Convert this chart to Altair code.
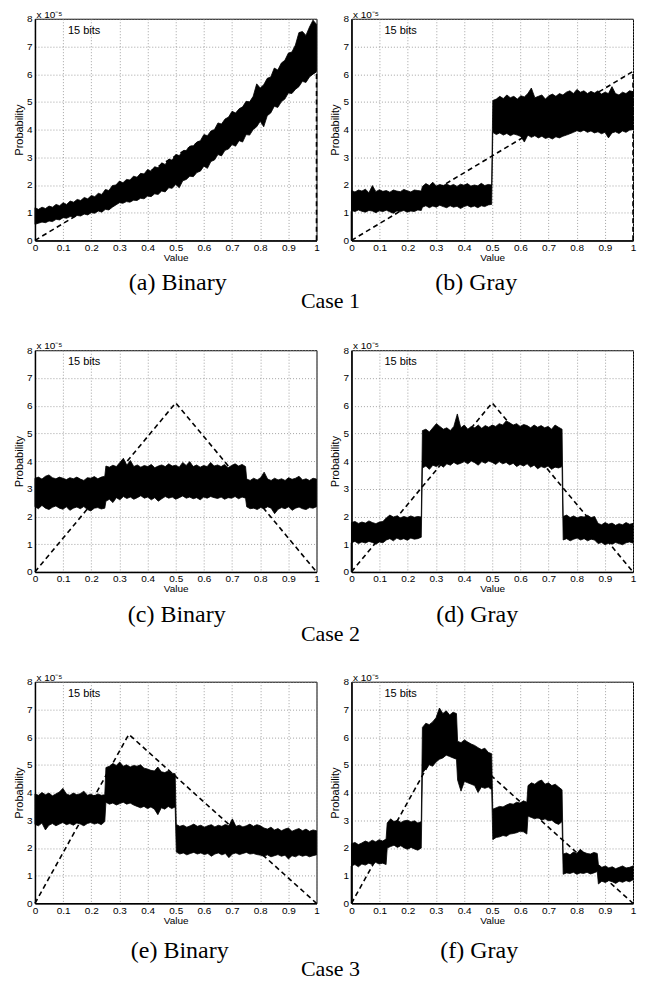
import altair as alt
import numpy as np
import pandas as pd

# ---------------- text / ticks ----------------
X_TICKS = [0, 0.1, 0.2, 0.3, 0.4, 0.5, 0.6, 0.7, 0.8, 0.9, 1]
Y_TICKS = [0, 1, 2, 3, 4, 5, 6, 7, 8]
BITS_LABEL = "15 bits"
BITS_POS = (0.117, 7.57)
SCALE_LABEL = "x 10\u207b\u2075"
CAPTIONS = ["(a) Binary", "(b) Gray", "(c) Binary", "(d) Gray", "(e) Binary", "(f) Gray"]
CASES = ["Case 1", "Case 2", "Case 3"]

# ---------------- target pdf (dashed), units of 1e-5 ----------------
TARGET_X = [[0, 1, 1], [0, 0.5, 1], [0, 1 / 3, 1]]
TARGET_Y = [[0, 6.1, 0], [0, 6.1, 0], [0, 6.1, 0]]

# ---------------- observed histogram bands (upper / lower envelope), units of 1e-5 ----------------
A_BREAKS = [0, 1]
A_HI = [[1.18, 1.12, 1.2, 1.15, 1.24, 1.2, 1.3, 1.25, 1.36, 1.3,
         1.42, 1.38, 1.48, 1.44, 1.55, 1.5, 1.62, 1.58, 1.7, 1.66,
         1.84, 1.8, 1.98, 2.0, 2.14, 2.08, 2.2, 2.18, 2.32, 2.28,
         2.42, 2.4, 2.56, 2.5, 2.66, 2.62, 2.8, 2.74, 2.92, 2.9,
         3.1, 3.06, 3.22, 3.25, 3.4, 3.42, 3.55, 3.6, 3.82, 3.78,
         3.95, 4.0, 4.24, 4.2, 4.38, 4.45, 4.66, 4.6, 4.75, 4.82,
         5.02, 5.0, 5.2, 5.65, 5.5, 5.62, 5.85, 5.9, 6.22, 6.15,
         6.4, 6.5, 6.76, 6.8, 7.05, 7.5, 7.54, 7.4, 7.7, 7.95, 7.8]]
A_LO = [[0.58, 0.62, 0.66, 0.64, 0.7, 0.68, 0.76, 0.74, 0.82, 0.8,
         0.86, 0.84, 0.9, 0.88, 0.95, 0.92, 1.0, 0.98, 1.06, 1.02,
         1.12, 1.1, 1.2, 1.28, 1.36, 1.34, 1.4, 1.38, 1.45, 1.44,
         1.52, 1.5, 1.6, 1.58, 1.68, 1.66, 1.78, 1.75, 1.9, 1.88,
         2.02, 1.9, 2.15, 2.2, 2.32, 2.3, 2.45, 2.5, 2.68, 2.6,
         2.85, 2.9, 3.1, 3.05, 3.25, 3.3, 3.46, 3.4, 3.6, 3.55,
         3.82, 3.8, 4.0, 4.1, 4.3, 4.1, 4.5, 4.6, 4.84, 4.8,
         5.0, 5.1, 5.32, 5.3, 5.45, 5.55, 5.74, 5.7, 5.9, 6.0, 6.1]]

B_BREAKS = [0, 0.25, 0.5, 1]
B_HI = [[1.8, 1.75, 1.82, 1.78, 1.85, 1.72, 1.98, 1.76, 1.83, 1.77, 1.8,
         1.74, 1.82, 1.78, 1.76, 1.84, 1.79, 1.75, 1.82, 1.8, 1.78],
        [1.95, 2.05, 1.98, 2.1, 1.96, 2.02, 1.98, 2.04, 1.97, 2.02, 1.95,
         2.03, 1.99, 2.05, 1.96, 2.0, 1.97, 2.06, 1.98, 2.02, 2.0],
        [5.05, 5.1, 5.2, 5.12, 5.25, 5.15, 5.2, 5.1, 5.22, 5.18,
         5.3, 5.5, 5.15, 5.2, 5.25, 5.1, 5.22, 5.28, 5.2, 5.3,
         5.25, 5.35, 5.4, 5.3, 5.45, 5.35, 5.4, 5.3, 5.38, 5.32,
         5.4, 5.28, 5.35, 5.3, 5.55, 5.3, 5.25, 5.35, 5.3, 5.4, 5.37]]
B_LO = [[1.08, 1.04, 1.1, 1.05, 1.02, 1.08, 1.06, 1.0, 1.07, 1.04, 1.09,
         1.03, 0.98, 1.06, 1.04, 1.08, 1.02, 1.06, 1.04, 1.1, 1.08],
        [1.2, 1.25, 1.18, 1.24, 1.2, 1.27, 1.22, 1.18, 1.25, 1.2, 1.23,
         1.15, 1.22, 1.26, 1.2, 1.24, 1.18, 1.25, 1.22, 1.28, 1.3],
        [3.9, 3.82, 3.88, 3.8, 3.86, 3.78, 3.84, 3.8, 3.75, 3.55,
         3.8, 3.72, 3.78, 3.7, 3.76, 3.68, 3.72, 3.66, 3.74, 3.7,
         3.76, 3.8, 3.85, 3.9, 3.96, 3.92, 3.98, 3.9, 3.95, 3.88,
         3.92, 3.85, 3.9, 3.7, 3.88, 3.92, 3.86, 3.95, 3.9, 3.98, 4.0]]

C_BREAKS = [0, 0.25, 0.75, 1]
C_HI = [[3.38, 3.42, 3.35, 3.45, 3.5, 3.4, 3.36, 3.42, 3.38, 3.33, 3.4,
         3.36, 3.42, 3.35, 3.3, 3.4, 3.38, 3.44, 3.36, 3.42, 3.45],
        [3.82, 3.78, 3.85, 3.8, 3.95, 4.1, 3.85, 4.02, 3.8, 3.86,
         3.78, 3.84, 3.8, 3.88, 3.76, 3.82, 3.86, 3.8, 3.9, 3.82,
         3.85, 3.78, 3.95, 3.84, 3.98, 3.8, 3.86, 3.78, 3.84, 3.8,
         3.95, 3.82, 3.86, 3.8, 3.88, 3.76, 3.84, 3.9, 3.82, 3.88, 3.8],
        [3.35, 3.3, 3.38, 3.32, 3.4, 3.6, 3.35, 3.3, 3.38, 3.32, 3.36,
         3.3, 3.4, 3.34, 3.38, 3.45, 3.32, 3.36, 3.3, 3.38, 3.35]]
C_LO = [[2.35, 2.28, 2.4, 2.3, 2.25, 2.33, 2.38, 2.3, 2.26, 2.35, 2.22,
         2.3, 2.34, 2.28, 2.36, 2.25, 2.2, 2.3, 2.32, 2.27, 2.3],
        [2.55, 2.62, 2.5, 2.68, 2.6, 2.72, 2.65, 2.7, 2.62, 2.68,
         2.75, 2.66, 2.7, 2.6, 2.68, 2.55, 2.64, 2.72, 2.66, 2.7,
         2.62, 2.68, 2.74, 2.66, 2.7, 2.64, 2.68, 2.6, 2.7, 2.66,
         2.72, 2.68, 2.65, 2.7, 2.62, 2.68, 2.66, 2.72, 2.64, 2.7, 2.66],
        [2.35, 2.28, 2.3, 2.25, 2.32, 2.28, 2.35, 2.3, 2.1, 2.26, 2.32,
         2.28, 2.35, 2.22, 2.3, 2.34, 2.28, 2.25, 2.32, 2.3, 2.35]]

D_BREAKS = [0, 0.25, 0.75, 1]
D_HI = [[1.78, 1.82, 1.75, 1.8, 1.76, 1.84, 1.78, 1.74, 1.8, 1.82, 1.95,
         2.05, 1.98, 2.02, 1.95, 2.0, 1.96, 2.02, 1.97, 2.0, 1.98],
        [5.1, 5.15, 5.05, 5.2, 5.35, 5.25, 5.15, 5.2, 5.1, 5.25,
         5.7, 5.2, 5.3, 5.15, 5.25, 5.2, 5.3, 5.18, 5.28, 5.22,
         5.3, 5.25, 5.35, 5.3, 5.45, 5.38, 5.3, 5.35, 5.25, 5.32,
         5.28, 5.2, 5.3, 5.22, 5.28, 5.2, 5.25, 5.15, 5.3, 5.22, 5.15],
        [2.0, 2.05, 1.96, 2.02, 1.95, 2.0, 1.98, 2.04, 1.96, 2.0, 1.75,
         1.7, 1.78, 1.72, 1.76, 1.68, 1.74, 1.7, 1.78, 1.72, 1.75]]
D_LO = [[1.05, 1.1, 1.02, 1.08, 1.04, 1.1, 1.06, 1.0, 1.08, 1.05, 1.15,
         1.2, 1.12, 1.22, 1.16, 1.2, 1.14, 1.22, 1.18, 1.2, 1.25],
        [3.75, 3.82, 3.7, 3.85, 3.8, 3.88, 3.78, 3.9, 3.85, 3.95,
         3.88, 3.92, 3.98, 3.9, 4.0, 3.94, 3.85, 3.98, 3.92, 4.0,
         3.95, 3.88, 3.98, 3.9, 3.95, 3.86, 3.92, 3.8, 3.88, 3.82,
         3.9, 3.78, 3.85, 3.72, 3.8, 3.76, 3.82, 3.7, 3.78, 3.75, 3.8],
        [1.15, 1.2, 1.12, 1.18, 1.22, 1.15, 1.2, 1.12, 1.18, 1.15, 1.02,
         1.06, 0.98, 1.04, 1.0, 1.06, 1.02, 0.98, 1.05, 1.08, 1.04]]

E_BREAKS = [0, 0.25, 0.5, 1]
E_HI = [[3.95, 3.9, 4.0, 3.92, 3.98, 3.88, 3.95, 4.02, 4.15, 3.95, 3.9,
         3.98, 3.92, 3.96, 4.05, 3.9, 3.94, 3.88, 3.95, 3.9, 3.92],
        [4.9, 4.95, 5.05, 4.98, 5.1, 4.95, 5.0, 4.92, 4.98, 4.95, 5.0,
         4.88, 4.85, 4.8, 4.78, 4.92, 4.75, 4.72, 4.78, 4.7, 4.68],
        [2.85, 2.78, 2.82, 2.75, 2.8, 2.86, 2.78, 2.82, 2.75, 2.8,
         2.84, 2.76, 2.82, 2.78, 2.85, 2.8, 3.05, 2.78, 2.82, 2.76,
         2.8, 2.86, 2.78, 2.84, 2.8, 2.72, 2.68, 2.75, 2.65, 2.7,
         2.62, 2.68, 2.72, 2.6, 2.66, 2.7, 2.62, 2.68, 2.6, 2.65, 2.62]]
E_LO = [[2.85, 2.8, 2.9, 2.65, 2.82, 2.88, 2.8, 2.86, 2.92, 2.84, 2.88,
         2.82, 2.9, 2.86, 2.8, 2.88, 2.92, 2.86, 2.9, 2.84, 2.95],
        [3.65, 3.58, 3.62, 3.55, 3.6, 3.65, 3.58, 3.62, 3.55, 3.5, 3.45,
         3.5, 3.42, 3.48, 3.4, 3.2, 3.45, 3.4, 3.5, 3.42, 3.48],
        [1.85, 1.78, 1.82, 1.75, 1.8, 1.84, 1.78, 1.82, 1.76, 1.8,
         1.7, 1.78, 1.82, 1.75, 1.8, 1.65, 1.78, 1.82, 1.76, 1.8,
         1.84, 1.78, 1.8, 1.76, 1.74, 1.7, 1.75, 1.68, 1.72, 1.76,
         1.7, 1.74, 1.6, 1.72, 1.68, 1.75, 1.7, 1.74, 1.68, 1.72, 1.75]]

F_BREAKS = [0, 0.125, 0.25, 0.375, 0.5, 0.625, 0.75, 0.875, 1]
F_HI = [[2.15, 2.2, 2.12, 2.18, 2.25, 2.2, 2.28, 2.22, 2.3, 2.25, 2.32],
        [2.9, 3.05, 2.95, 3.0, 2.92, 2.98, 3.0, 2.94, 2.98, 2.9, 2.95],
        [6.35, 6.5, 6.45, 6.55, 6.7, 7.05, 6.85, 6.95, 6.8, 6.9, 6.85],
        [5.85, 5.8, 5.9, 5.82, 5.75, 5.7, 5.62, 5.55, 5.6, 5.45, 5.4],
        [3.4, 3.45, 3.5, 3.48, 3.55, 3.6, 3.58, 3.65, 3.62, 3.7, 3.65],
        [4.25, 4.35, 4.3, 4.4, 4.45, 4.3, 4.35, 4.25, 4.3, 4.2, 4.1],
        [1.78, 1.82, 1.75, 1.85, 1.8, 1.95, 1.85, 1.8, 1.78, 1.84, 1.8],
        [1.4, 1.3, 1.35, 1.28, 1.32, 1.25, 1.3, 1.35, 1.28, 1.3, 1.35]]
F_LO = [[1.35, 1.4, 1.32, 1.42, 1.38, 1.45, 1.4, 1.48, 1.42, 1.45, 1.4],
        [2.0, 2.05, 2.1, 2.02, 2.08, 2.0, 1.95, 2.02, 1.96, 1.92, 2.0],
        [4.7, 4.85, 5.0, 4.95, 5.1, 5.2, 5.25, 5.35, 5.3, 5.25, 5.2],
        [4.45, 4.05, 4.4, 4.35, 4.3, 4.25, 4.0, 4.2, 4.15, 4.2, 4.1],
        [2.3, 2.38, 2.4, 2.45, 2.42, 2.5, 2.52, 2.55, 2.6, 2.58, 2.5],
        [3.15, 3.1, 3.05, 3.1, 3.0, 3.05, 2.98, 3.0, 2.9, 2.85, 2.95],
        [1.05, 1.1, 1.08, 1.12, 1.05, 1.1, 1.08, 1.12, 1.06, 1.1, 1.15],
        [0.7, 0.8, 0.75, 0.82, 0.78, 0.72, 0.8, 0.76, 0.82, 0.78, 0.85]]

# first histogram bin (value 0) is empty in the Gray panels: line from 0 up to the band
START_LO = [None, 1.05, None, 1.05, None, 1.35]

PANELS = [(A_BREAKS, A_HI, A_LO), (B_BREAKS, B_HI, B_LO), (C_BREAKS, C_HI, C_LO),
          (D_BREAKS, D_HI, D_LO), (E_BREAKS, E_HI, E_LO), (F_BREAKS, F_HI, F_LO)]

# ---------------- layout ----------------
W, H = 282, 222
EPS = 0.002
CAP_X = [143, 125, 142, 126, 145, 128]
CAP_Y = [265, 265, 265, 265, 270, 270]
CASE_X = 296
CASE_Y = [283, 284, 288]

AX_FONT = "Liberation Sans"
SERIF = "Liberation Serif"


def band_df(breaks, his, los):
    rows = []
    nseg = len(breaks) - 1
    for k in range(nseg):
        b0, b1 = breaks[k], breaks[k + 1]
        e0 = 0 if k == 0 else EPS
        e1 = 0 if k == nseg - 1 else EPS
        n = min(len(his[k]), len(los[k]))
        xs = np.linspace(b0 + e0, b1 - e1, n)
        for x, h, l in zip(xs, his[k][:n], los[k][:n]):
            rows.append({"x": float(x), "hi": h, "lo": l})
    return pd.DataFrame(rows)


def xenc(field):
    return alt.X(field, type="quantitative",
                 scale=alt.Scale(domain=[0, 1], nice=False, zero=False),
                 axis=alt.Axis(values=X_TICKS, format="~g", title="Value"))


def yenc(field):
    return alt.Y(field, type="quantitative",
                 scale=alt.Scale(domain=[0, 8], nice=False),
                 axis=alt.Axis(values=Y_TICKS, format="d", title="Probability"))


panels = []
for idx, (breaks, his, los) in enumerate(PANELS):
    case = idx // 2
    bdf = band_df(breaks, his, los)
    band = alt.Chart(bdf).mark_area(color="black", stroke="black", strokeWidth=0.8,
                                    opacity=1).encode(
        x=xenc("x"), y=yenc("lo"), y2="hi")

    tdf = pd.DataFrame({"x": TARGET_X[case], "y": TARGET_Y[case],
                        "i": list(range(len(TARGET_X[case])))})
    target = alt.Chart(tdf).mark_line(color="black", strokeDash=[5, 3.5],
                                      strokeWidth=1.6).encode(
        x=xenc("x"), y=yenc("y"), order="i:Q")

    layers = [band, target]

    if START_LO[idx] is not None:
        sdf = pd.DataFrame({"x": [0.0], "y0": [0.0], "y1": [START_LO[idx]]})
        layers.append(alt.Chart(sdf).mark_rule(color="black", strokeWidth=1.5).encode(
            x=xenc("x"), y=yenc("y0"), y2="y1"))

    bdf_txt = pd.DataFrame({"x": [BITS_POS[0]], "y": [BITS_POS[1]], "t": [BITS_LABEL]})
    bits = alt.Chart(bdf_txt).mark_text(
        font=AX_FONT, fontSize=11, align="left", baseline="middle", color="black").encode(
        x=xenc("x"), y=yenc("y"), text="t:N")
    scale_lbl = alt.Chart(pd.DataFrame({"t": [SCALE_LABEL]})).mark_text(
        font=AX_FONT, fontSize=10, align="left", baseline="alphabetic", color="black").encode(
        x=alt.value(1.5), y=alt.value(-0.8), text="t:N")
    cap = alt.Chart(pd.DataFrame({"t": [CAPTIONS[idx]]})).mark_text(
        font=SERIF, fontSize=24, align="center", baseline="middle", color="black").encode(
        x=alt.value(CAP_X[idx]), y=alt.value(CAP_Y[idx]), text="t:N")
    layers += [bits, scale_lbl, cap]

    if idx % 2 == 0:
        case_lbl = alt.Chart(pd.DataFrame({"t": [CASES[case]]})).mark_text(
            font=SERIF, fontSize=22, align="center", baseline="middle", color="black").encode(
            x=alt.value(CASE_X), y=alt.value(CASE_Y[case]), text="t:N")
        layers.append(case_lbl)

    panels.append(alt.layer(*layers).properties(width=W, height=H))

chart = alt.concat(*panels, columns=2, spacing={"row": 110, "column": 35},
                   bounds="flush").properties(
    padding={"left": 4, "top": 0, "right": 2, "bottom": 2}
).configure_view(stroke="black", strokeWidth=1).configure_axis(
    labelFont=AX_FONT, labelFontSize=10, labelColor="black",
    titleFont=AX_FONT, titleFontWeight="normal", titleColor="black",
    grid=True, gridColor="#8c8c8c", gridDash=[1, 2], gridWidth=0.8,
    domainColor="black", domainWidth=1.5, ticks=False,
    labelFlush=False, labelOverlap=False
).configure_axisX(labelPadding=2, titleFontSize=10, titlePadding=0
).configure_axisY(labelPadding=3, titleFontSize=11, titlePadding=2)

chart.save("out.html", embed_options={"renderer": "svg", "actions": False})
